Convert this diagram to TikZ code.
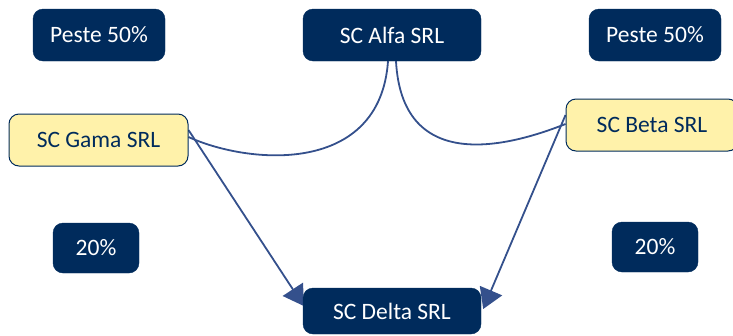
\documentclass[tikz,border=0pt]{standalone}
\usepackage{fontspec}
\setmainfont{Carlito}
\usetikzlibrary{arrows.meta,backgrounds}
\definecolor{navy}{RGB}{0,43,92}
\definecolor{pale}{RGB}{255,242,170}
\definecolor{link}{RGB}{52,80,140}

\begin{document}
\begin{tikzpicture}[x=1pt, y=-1pt,
    dark/.style = {draw=navy, fill=navy, text=white, rounded corners=10pt, minimum height=52pt, inner sep=0pt},
    firm/.style = {draw=navy, line width=1pt, fill=pale, text=navy, rounded corners=10pt, minimum height=52pt, inner sep=0pt},
    line/.style = {draw=link, line width=1.8pt},
    arr/.style = {line, -{Triangle[length=20pt, width=24pt]}},
    font=\fontsize{23.5}{28}\selectfont]
\useasboundingbox (0,0) rectangle (733,335);
\node[dark, minimum width=132pt] (p1) at (99,35) {Peste 50\%};
\node[dark, minimum width=178pt] (alfa) at (392,35) {SC Alfa SRL};
\node[dark, minimum width=132pt] (p2) at (655,35) {Peste 50\%};
\node[firm, minimum width=179pt] (gama) at (98.5,140) {SC Gama SRL};
\node[firm, minimum width=172pt] (beta) at (652,125) {SC Beta SRL};
\node[dark, minimum width=86pt, minimum height=50pt] (q1) at (96,248) {20\%};
\node[dark, minimum width=86pt, minimum height=50pt] (q2) at (655,247) {20\%};
\node[dark, minimum width=178pt, minimum height=46pt] (delta) at (392,311) {SC Delta SRL};
\begin{scope}[on background layer]
\draw[line] ([xshift=-4pt]alfa.south) .. controls (380,175) and (250,165) .. ([yshift=3pt]gama.east);
\draw[line] ([xshift=4pt]alfa.south) .. controls (402,170) and (500,150) .. ([yshift=1pt]beta.west);
\draw[arr] ([yshift=10pt]gama.east) -- ([xshift=1pt,yshift=5pt]delta.west);
\draw[arr] ([yshift=10pt]beta.west) -- ([xshift=2pt,yshift=2pt]delta.east);
\end{scope}
\end{tikzpicture}
\end{document}
